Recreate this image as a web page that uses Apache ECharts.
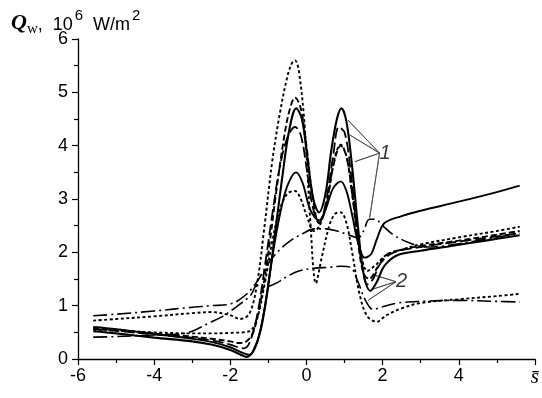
<!DOCTYPE html>
<html>
<head>
<meta charset="utf-8">
<script src="https://cdn.jsdelivr.net/npm/echarts@6/dist/echarts.min.js"></script>
<style>html,body{margin:0;padding:0;background:#fff}#c{width:542px;height:398px}</style>
</head>
<body>
<div id="c"></div>
<script>
// ---- data (x = s̄, y = Q_w in 10^6 W/m2) ----
const xTicks = [-6, -4, -2, 0, 2, 4, 6];
const yTicks = [0, 1, 2, 3, 4, 5, 6];

const solidAx = [-5.6,-5,-4,-3,-2.5,-2,-1.75,-1.57,-1.4,-1.2,-1.0,-0.8,-0.6,-0.45,-0.27,-0.12,0.02,0.18,0.33,0.5,0.65,0.8,0.92,1.05,1.2,1.35,1.5,1.68,1.85,2.05,2.4,3,3.8,4.7,5.6];
const solidAy = [0.52,0.48,0.4,0.33,0.27,0.17,0.09,0.04,0.15,0.55,1.4,2.5,3.6,4.3,4.7,4.5,3.8,3.0,2.75,3.1,3.9,4.5,4.7,4.45,3.6,2.5,1.6,1.28,1.45,1.75,1.95,2.03,2.12,2.22,2.32];

const solidBx = [-5.6,-5,-4,-3,-2.5,-2,-1.75,-1.5,-1.3,-1.1,-0.9,-0.7,-0.5,-0.27,-0.1,0.1,0.33,0.5,0.7,0.9,1.05,1.2,1.35,1.53,1.7,1.85,2.05,2.5,3,4,5,5.6];
const solidBy = [0.6,0.56,0.47,0.38,0.32,0.22,0.14,0.08,0.3,0.95,1.9,2.7,3.25,3.5,3.3,2.8,2.6,2.8,3.2,3.33,3.15,2.7,2.2,1.9,1.97,2.25,2.55,2.68,2.78,2.95,3.13,3.25];

const dashCx = [-5.6,-5,-4,-3,-2.5,-2,-1.8,-1.6,-1.4,-1.2,-1.0,-0.8,-0.6,-0.45,-0.3,-0.15,0,0.15,0.33,0.5,0.7,0.9,1.05,1.2,1.35,1.5,1.65,1.85,2.1,2.5,3,4,5,5.6];
const dashCy = [0.58,0.55,0.48,0.42,0.38,0.33,0.3,0.32,0.5,1.1,2.0,3.1,4.1,4.65,4.9,4.7,4.0,3.1,2.55,2.8,3.6,4.0,3.8,3.1,2.2,1.6,1.5,1.7,1.95,2.05,2.12,2.22,2.33,2.4];

const longEx = [-5.6,-5,-4,-3,-2.5,-2,-1.8,-1.65,-1.5,-1.3,-1.1,-0.9,-0.7,-0.5,-0.3,-0.15,0,0.15,0.33,0.5,0.7,0.85,1.0,1.15,1.3,1.45,1.6,1.75,1.95,2.3,3,4,5,5.6];
const longEy = [0.56,0.53,0.46,0.4,0.35,0.27,0.22,0.2,0.3,0.8,1.7,2.7,3.6,4.15,4.35,4.2,3.6,2.9,2.55,2.9,3.8,4.35,4.25,3.6,2.6,1.8,1.4,1.5,1.8,2.0,2.1,2.2,2.3,2.36];

const dotFx = [-5.6,-5,-4,-3,-2.5,-2,-1.75,-1.5,-1.3,-1.1,-0.9,-0.7,-0.5,-0.38,-0.3,-0.2,-0.05,0.1,0.25,0.4,0.6,0.75,0.9,1.05,1.2,1.4,1.6,1.85,2.1,2.5,3,4,5,5.6];
const dotFy = [0.72,0.75,0.8,0.86,0.88,0.82,0.75,0.85,1.4,2.5,3.7,4.6,5.3,5.55,5.6,5.4,4.4,2.6,1.42,1.9,2.5,2.72,2.75,2.55,2.0,1.2,0.8,0.7,0.82,0.95,1.05,1.12,1.18,1.22];

const dotGx = [-5.6,-5,-4,-3,-2.5,-2,-1.5,-1.3,-1.1,-0.9,-0.7,-0.5,-0.3,-0.15,0,0.2,0.35,0.55,0.75,0.9,1.05,1.2,1.4,1.6,1.8,2.1,2.5,3,4,5,5.6];
const dotGy = [0.55,0.53,0.5,0.48,0.48,0.49,0.52,0.75,1.4,2.2,2.8,3.1,3.15,3.0,2.7,2.4,2.5,3.0,3.8,4.02,3.8,3.1,2.1,1.65,1.75,1.95,2.05,2.15,2.28,2.4,2.48];

const ddHx = [-5.6,-5,-4,-3,-2.5,-2,-1.6,-1.3,-1.0,-0.7,-0.4,-0.1,0.2,0.5,0.8,1.1,1.35,1.5,1.65,1.8,2.0,2.3,2.7,3.1,3.6,4.5,5.6];
const ddHy = [0.81,0.84,0.9,0.97,1.0,1.03,1.2,1.45,1.8,2.05,2.23,2.35,2.44,2.44,2.4,2.33,2.27,2.4,2.62,2.62,2.5,2.32,2.18,2.1,2.12,2.22,2.36];

const ddIx = [-5.6,-5,-4,-3.3,-3,-2.6,-2.2,-1.8,-1.46,-1.3,-1.1,-0.8,-0.5,-0.2,0.2,0.6,0.9,1.15,1.35,1.55,1.75,2.0,2.4,3,4,5,5.6];
const ddIy = [0.41,0.42,0.45,0.47,0.52,0.66,0.8,1.0,1.2,1.38,1.35,1.42,1.55,1.65,1.7,1.72,1.74,1.72,1.45,1.1,0.93,0.98,1.05,1.08,1.1,1.08,1.07];

// annotation labels and leader lines (data coordinates)
const label1 = [1.92, 3.86];
const label1Targets = [[1.09, 4.48], [1.14, 4.2], [1.27, 3.7], [1.66, 2.65]];
const label2 = [2.35, 1.45];
const label2Targets = [[1.75, 1.58], [1.7, 1.3], [1.62, 1.1]];

function pts(xs, ys) { return xs.map((x, i) => [x, ys[i]]); }
function leader(p, targets) { const d = []; targets.forEach(t => { d.push(p); d.push(t); d.push(p); }); return d; }

const chart = echarts.init(document.getElementById('c'), null, {renderer: 'canvas'});
const curve = (name, xs, ys, type, w) => ({
  name, type: 'line', data: pts(xs, ys), smooth: 0.35, showSymbol: false, silent: true,
  lineStyle: {color: '#000', width: w || 1.8, type: type}, z: 3
});
const axisFont = {fontFamily: 'Liberation Sans, Arial, sans-serif', fontSize: 18, color: '#000'};
chart.setOption({
  animation: false,
  backgroundColor: '#fff',
  title: {
    left: 6, top: 3,
    text: '{q|Q}{w|w}{t|,  10}{s|6}{t|  W/m}{s|2}',
    textStyle: {
      fontWeight: 'normal',
      rich: {
        q: {fontFamily: 'Liberation Serif', fontStyle: 'italic', fontWeight: 'bold', fontSize: 22, color: '#000', lineHeight: 26, verticalAlign: 'bottom'},
        w: {fontFamily: 'Liberation Serif', fontWeight: 'normal', fontSize: 15, color: '#000', lineHeight: 26, verticalAlign: 'bottom', padding: [0, 0, -3, 0]},
        t: {fontFamily: 'Liberation Sans', fontWeight: 'normal', fontSize: 18, color: '#000', lineHeight: 26, verticalAlign: 'bottom'},
        s: {fontFamily: 'Liberation Sans', fontWeight: 'normal', fontSize: 15, color: '#000', lineHeight: 26, verticalAlign: 'top', padding: [0, 0, 0, 2]}
      }
    }
  },
  grid: {left: 78, right: 4, top: 39, bottom: 39, containLabel: false},
  xAxis: {
    type: 'value', min: xTicks[0], max: xTicks[xTicks.length - 1], interval: 2,
    axisLine: {onZero: false, lineStyle: {color: '#000', width: 1.3}},
    axisTick: {length: 6, lineStyle: {color: '#000', width: 1.2}},
    minorTick: {show: true, splitNumber: 2, length: 4, lineStyle: {color: '#000', width: 1.2}},
    splitLine: {show: false},
    axisLabel: Object.assign({margin: 8, showMaxLabel: true,
      formatter: v => v === 6 ? '{s|s\u0304}' : String(v),
      rich: {s: {fontFamily: 'Liberation Serif', fontStyle: 'italic', fontSize: 21, color: '#000'}}}, axisFont)
  },
  yAxis: {
    type: 'value', min: yTicks[0], max: yTicks[yTicks.length - 1], interval: 1,
    axisLine: {show: true, onZero: false, lineStyle: {color: '#000', width: 1.3}},
    axisTick: {show: true, length: 6, lineStyle: {color: '#000', width: 1.2}},
    minorTick: {show: true, splitNumber: 2, length: 4, lineStyle: {color: '#000', width: 1.2}},
    splitLine: {show: false},
    axisLabel: Object.assign({margin: 10, padding: [5, 0, 0, 0]}, axisFont)
  },
  series: [
    curve('A', solidAx, solidAy, 'solid', 2.1),
    curve('B', solidBx, solidBy, 'solid', 1.9),
    curve('C', dashCx, dashCy, [6, 3], 1.9),
    curve('E', longEx, longEy, [11, 4], 1.8),
    curve('F', dotFx, dotFy, [3, 2.5], 1.9),
    curve('G', dotGx, dotGy, [3, 2.5], 1.9),
    curve('H', ddHx, ddHy, [14, 4, 2, 4], 1.6),
    curve('I', ddIx, ddIy, [14, 4, 2, 4], 1.6),
    {type: 'line', data: leader(label1, label1Targets), showSymbol: false, silent: true, lineStyle: {color: '#444', width: 0.8}, z: 2},
    {type: 'line', data: leader(label2, label2Targets), showSymbol: false, silent: true, lineStyle: {color: '#444', width: 0.8}, z: 2},
    {type: 'scatter', symbolSize: 0, silent: true, data: [label1.concat(['1']), label2.concat(['2'])],
      label: {show: true, position: 'right', distance: 0, formatter: p => p.data[2],
        fontFamily: 'Liberation Sans', fontStyle: 'italic', fontSize: 20, color: '#000'}}
  ]
});
</script>
</body>
</html>
